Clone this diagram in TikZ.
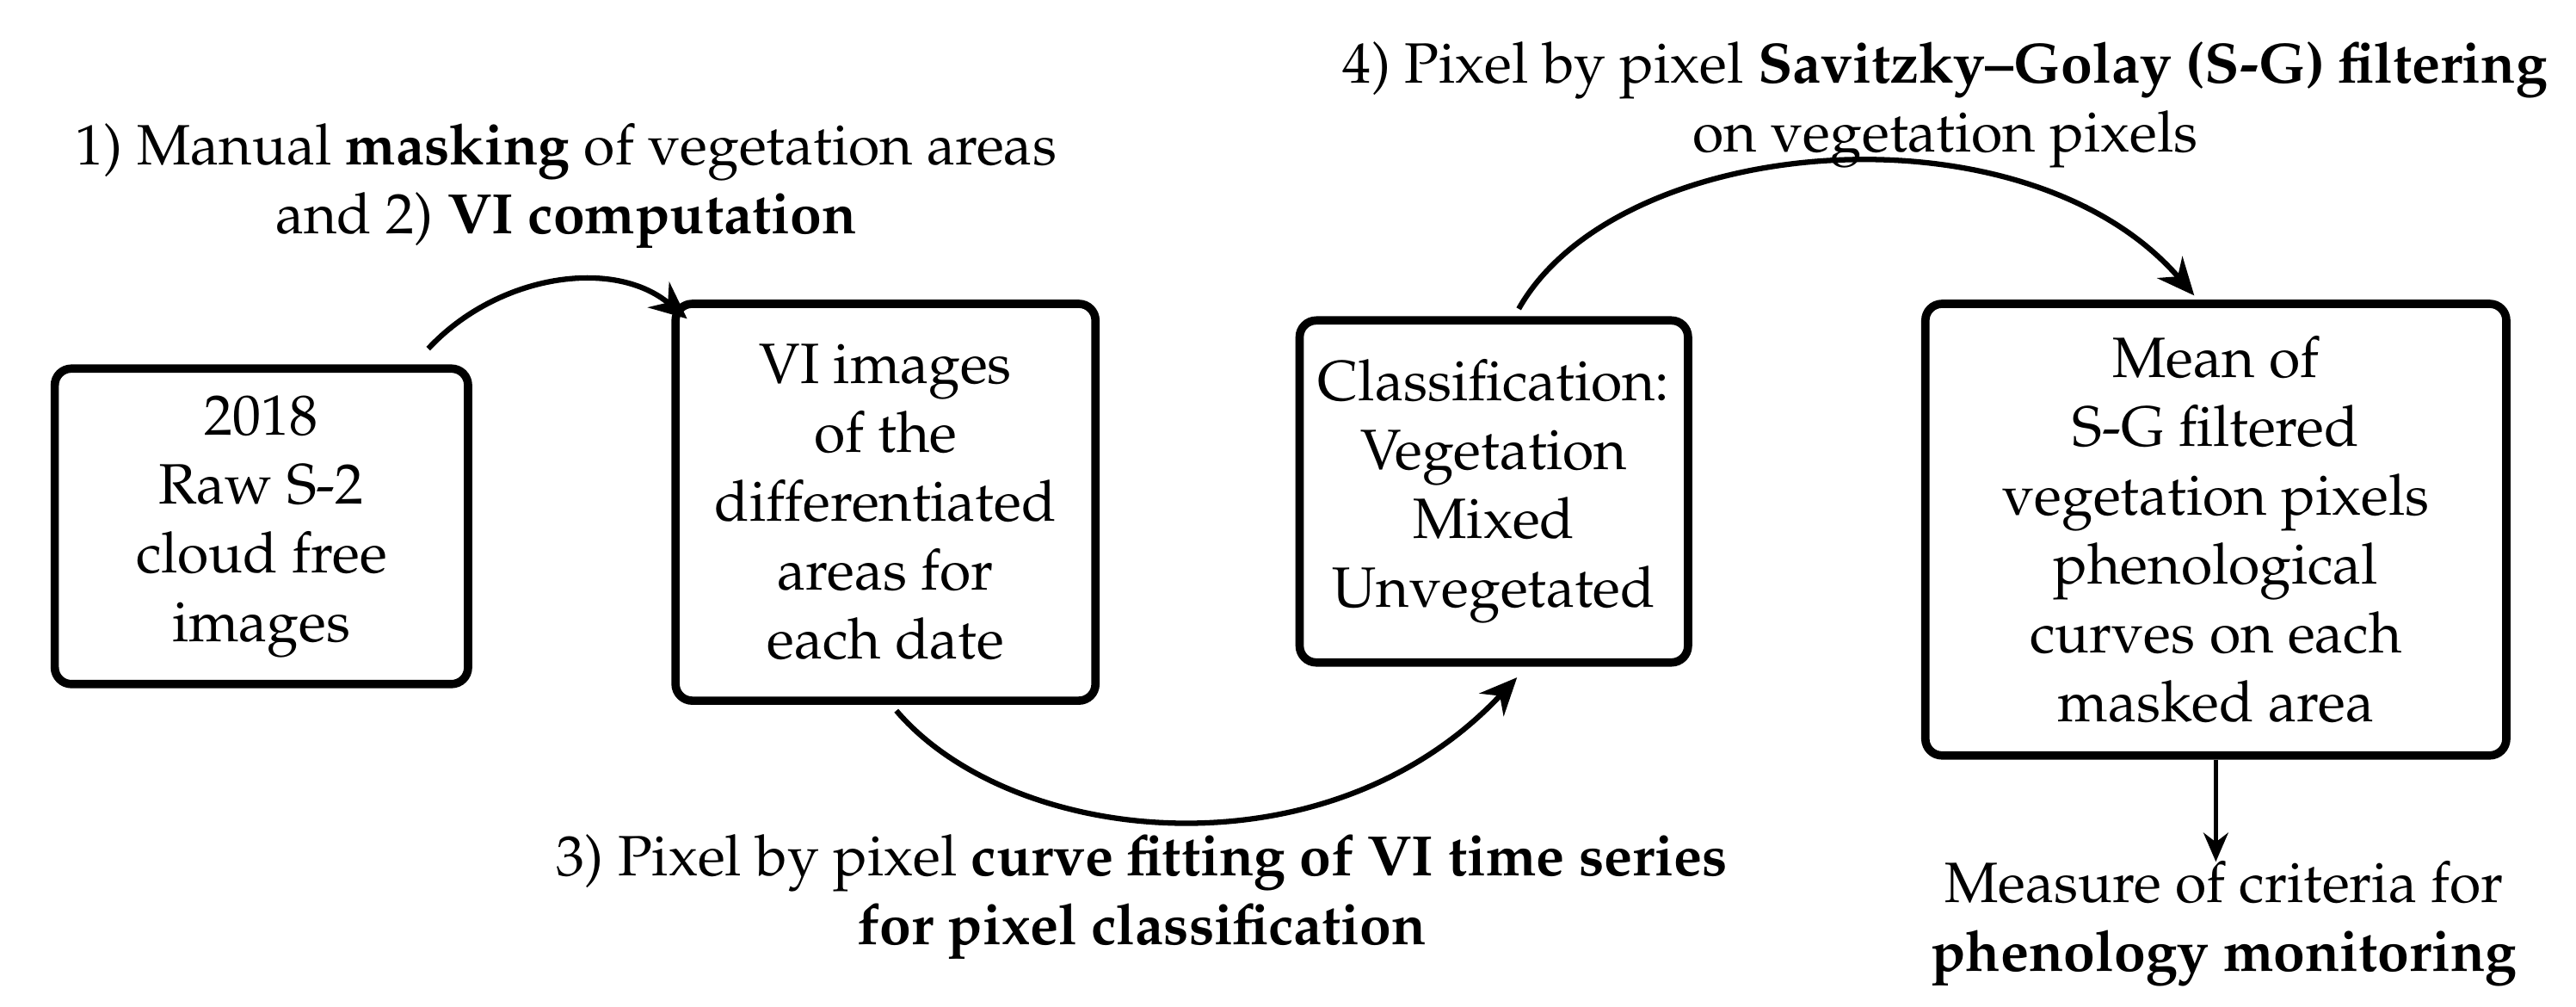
\documentclass[tikz,border=0pt]{standalone}
\usepackage[T1]{fontenc}
\usepackage{mathpazo}
\usetikzlibrary{arrows.meta}
\begin{document}
\begin{tikzpicture}[x=0.4pt,y=-0.4pt,
  box/.style={draw,line width=2pt,rounded corners=4pt,align=center,inner sep=0pt},
  txt/.style={align=center,font=\fontsize{13.7}{16.6}\selectfont},
  arr/.style={line width=1.3pt,-{Stealth[length=9pt,width=8pt]}}]
\useasboundingbox (0,0) rectangle (1552,606);
\node[box,minimum width=249*0.4pt,minimum height=190*0.4pt] (b1) at (157.5,317) {};
\node[txt] at (b1.center) {2018\\Raw S-2\\cloud free\\images};
\node[box,minimum width=253*0.4pt,minimum height=239*0.4pt] (b2) at (533.5,302.5) {};
\node[txt] at (b2.center) {VI images\\of the\\differentiated\\areas for\\each date};
\node[box,minimum width=234*0.4pt,minimum height=206*0.4pt] (b3) at (900,296) {};
\node[txt] at (b3.center) {Classification:\\Vegetation\\Mixed\\Unvegetated};
\node[box,minimum width=350*0.4pt,minimum height=272*0.4pt] (b4) at (1335,319) {};
\node[txt] at (b4.center) {Mean of\\S-G filtered\\vegetation pixels\\phenological\\curves on each\\masked area};
\node[txt] (l1) at (341,112) {1) Manual \textbf{masking} of vegetation areas\\and 2) \textbf{VI computation}};
\node[txt] (l3) at (688,540) {3) Pixel by pixel \textbf{curve fitting of VI time series}\\\textbf{for pixel classification}};
\node[txt] (l4) at (1172,63) {4) Pixel by pixel \textbf{Savitzky--Golay (S-G) filtering}\\on vegetation pixels};
\node[txt] (l5) at (1340,556) {Measure of criteria for\\\textbf{phenology monitoring}};
\coordinate (s1) at (258,210); \coordinate (e1) at (414,192);
\draw[arr] (s1) .. controls (300,165) and (370,155) .. (e1);
\coordinate (s2) at (540,428); \coordinate (e2) at (914,408);
\draw[arr] (s2) .. controls (610,510) and (800,530) .. (e2);
\coordinate (s3) at (915,186); \coordinate (e3) at (1322,178);
\draw[arr] (s3) .. controls (975,80) and (1220,60) .. (e3);
\draw[line width=0.9pt,-{Stealth[length=7pt,width=6pt]}] (b4.south) -- (1335,519);
\end{tikzpicture}
\end{document}
